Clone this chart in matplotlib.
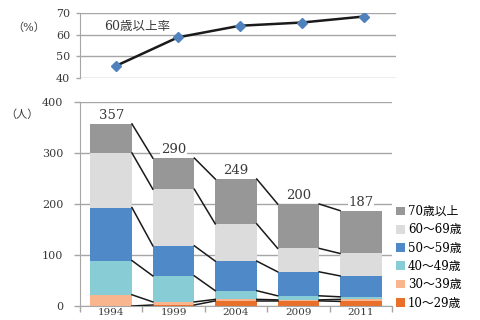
import matplotlib as mpl
mpl.use('Agg')
from matplotlib import pyplot as plt
import numpy as np

plt.rcParams['font.family'] = ['DejaVu Serif', 'Noto Sans CJK JP']

years = ['1994', '1999', '2004', '2009', '2011']
rate_60_over = [45.5, 58.8, 64.2, 65.7, 68.5]

age_10_29 = [0, 2, 10, 10, 9]
age_30_39 = [22, 6, 3, 2, 4]
age_40_49 = [67, 51, 17, 8, 5]
age_50_59 = [104, 59, 58, 47, 41]
age_60_69 = [107, 111, 73, 46, 44]
age_70_over = [57, 61, 88, 87, 84]

series = [age_10_29, age_30_39, age_40_49, age_50_59, age_60_69, age_70_over]
names = ['10～29歳', '30～39歳', '40～49歳', '50～59歳', '60～69歳', '70歳以上']
colors = ['#e8702a', '#f8b58e', '#88ccd6', '#4f89c8', '#dcdcdc', '#979797']

grid_c = '#a6a6a6'
text_c = '#3a3a3a'
fs = 8

fig = plt.figure(figsize=(4.8, 3.2), dpi=100)

# top: line chart of 60+ share
ax1 = fig.add_axes([80/480, 1 - 77.7/320, 316/480, 64.4/320])
x = np.arange(len(years))
ax1.plot(x, rate_60_over, color='#1a1a1a', linewidth=1.8, marker='D', markersize=5.5,
         markerfacecolor='#4f81bd', markeredgecolor='#4f81bd', zorder=3)
ax1.set_xlim(-0.58, 4.52)
ax1.set_ylim(40, 70)
ax1.set_yticks([40, 50, 60, 70])
ax1.set_xticks([])
ax1.grid(axis='y', color=grid_c, linewidth=1)
for s in ['top', 'right', 'bottom']:
    ax1.spines[s].set_visible(False)
ax1.spines['left'].set_color(grid_c)
ax1.tick_params(axis='y', length=3, width=1, color=grid_c, pad=4,
                labelsize=fs, labelcolor=text_c)
ax1.text(0.075, 0.8, '60歳以上率', transform=ax1.transAxes, fontsize=9,
         color=text_c, va='center')
fig.text(12/480, 1 - 27.5/320, '（%）', fontsize=fs, color=text_c, va='center')

# bottom: stacked bars
ax2 = fig.add_axes([80/480, 14/320, 312/480, 204/320])
w = 0.665
bottom = np.zeros(len(years))
levels = []
for vals, name, c in zip(series, names, colors):
    ax2.bar(x, vals, w, bottom=bottom, color=c, label=name, zorder=2)
    bottom = bottom + np.array(vals)
    levels.append(bottom.copy())

for lv in levels:
    for i in range(len(years) - 1):
        ax2.plot([x[i] + w/2, x[i+1] - w/2], [lv[i], lv[i+1]],
                 color='#1a1a1a', linewidth=1.1, zorder=3)

totals = levels[-1]
for i, t in enumerate(totals):
    ax2.text(x[i], t + 4, '%d' % t, ha='center', va='bottom', fontsize=9.5,
             color=text_c, zorder=4,
             bbox=dict(facecolor='white', edgecolor='none', pad=0.5))

ax2.set_xlim(-0.5, 4.5)
ax2.set_ylim(0, 400)
ax2.set_yticks([0, 100, 200, 300, 400])
ax2.set_xticks(x)
ax2.set_xticklabels(years)
ax2.set_xticks(np.arange(-0.5, 5, 1), minor=True)
ax2.grid(axis='y', color=grid_c, linewidth=1, zorder=0)
ax2.set_axisbelow(True)
for s in ['top', 'right']:
    ax2.spines[s].set_visible(False)
ax2.spines['left'].set_color(grid_c)
ax2.spines['bottom'].set_color(grid_c)
ax2.tick_params(axis='y', length=4, width=1, color=grid_c, pad=8,
                labelsize=fs, labelcolor=text_c)
ax2.tick_params(axis='x', which='major', length=0, pad=1.5,
                labelsize=7.5, labelcolor=text_c)
ax2.tick_params(axis='x', which='minor', length=4, width=1, color=grid_c)
fig.text(5/480, 1 - 115/320, '（人）', fontsize=fs, color=text_c, va='center')

h, l = ax2.get_legend_handles_labels()
fig.legend(h[::-1], l[::-1], loc='upper left', bbox_to_anchor=(396/480, 1 - 205/320),
           frameon=False, fontsize=8.5, handlelength=0.75, handleheight=0.75,
           handletextpad=0.25, labelspacing=0.45, borderpad=0, borderaxespad=0)

fig.savefig('out.png', dpi=100)
